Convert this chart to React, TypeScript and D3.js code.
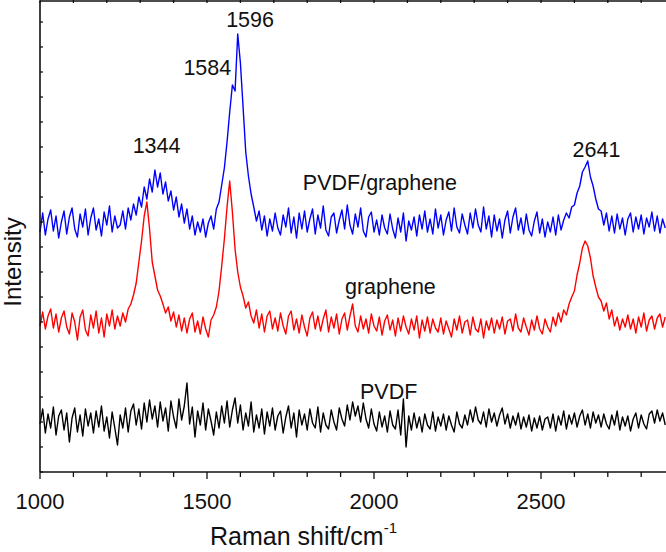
import React from 'react';
import * as d3 from 'd3';

// Raman spectra, sampled every 8 cm-1 from 1000 cm-1, stacked intensities (arb. units)
const shiftStart = 1000;
const shiftStep = 8;

const pvdfGraphene = [
  480, 518, 474, 506, 524, 482, 512, 468, 500, 522,
  476, 510, 528, 486, 470, 516, 490, 526, 474, 508,
  528, 484, 506, 472, 520, 494, 532, 480, 512, 488,
  494, 522, 486, 528, 504, 536, 514, 550, 530, 570,
  546, 586, 560, 604, 570, 598, 556, 580, 542, 562,
  524, 550, 510, 536, 498, 526, 486, 512, 474, 500,
  480, 506, 470, 498, 512, 486, 526, 540, 574, 608,
  660, 720, 774, 762, 876, 818, 730, 640, 592, 556,
  530, 502, 522, 484, 512, 472, 506, 482, 518, 488,
  474, 514, 490, 528, 478, 510, 468, 518, 486, 522,
  480, 506, 526, 476, 514, 488, 532, 484, 472, 510,
  518, 478, 504, 524, 486, 534, 494, 476, 516, 490,
  528, 482, 470, 510, 520, 480, 504, 474, 514, 488,
  476, 516, 486, 468, 508, 480, 518, 462, 502, 484,
  510, 472, 514, 486, 522, 480, 506, 476, 526, 488,
  514, 474, 504, 520, 482, 528, 490, 478, 516, 494,
  476, 518, 488, 526, 494, 480, 530, 486, 512, 470,
  514, 482, 506, 468, 504, 522, 478, 510, 528, 484,
  508, 476, 516, 484, 472, 502, 520, 478, 506, 470,
  500, 480, 510, 474, 514, 484, 504, 518, 508, 530,
  534, 558, 572, 600, 610, 622, 590, 572, 546, 526,
  522, 494, 518, 482, 512, 478, 516, 486, 508, 474,
  506, 518, 480, 510, 486, 514, 476, 508, 490, 520,
  482, 512, 478, 506, 488,
];

const graphene = [
  292, 320, 286, 312, 326, 288, 316, 280, 308, 322,
  290, 276, 318, 300, 264, 310, 324, 284, 272, 314,
  288, 322, 278, 308, 270, 316, 292, 324, 286, 312,
  292, 318, 300, 326, 336, 354, 378, 420, 462, 512,
  540, 486, 420, 392, 364, 352, 336, 318, 330, 302,
  320, 290, 314, 282, 308, 278, 306, 318, 280, 302,
  276, 310, 286, 270, 304, 314, 330, 362, 412, 466,
  530, 582, 520, 446, 400, 370, 352, 328, 340, 312,
  298, 324, 288, 316, 280, 312, 322, 286, 308, 282,
  318, 292, 276, 312, 322, 284, 306, 278, 314, 290,
  272, 308, 320, 286, 312, 282, 306, 324, 280, 310,
  288, 316, 276, 306, 318, 284, 312, 336, 292, 280,
  312, 286, 306, 278, 316, 292, 282, 310, 274, 302,
  314, 284, 304, 272, 308, 282, 312, 290, 276, 306,
  284, 312, 268, 304, 282, 310, 278, 306, 288, 280,
  308, 276, 302, 286, 270, 306, 284, 312, 278, 300,
  304, 274, 310, 286, 280, 306, 268, 302, 284, 308,
  278, 304, 286, 310, 276, 302, 306, 282, 316, 288,
  280, 308, 290, 274, 304, 284, 312, 286, 276, 306,
  290, 280, 310, 292, 318, 300, 324, 314, 336, 350,
  362, 394, 418, 448, 462, 452, 428, 392, 370, 350,
  342, 322, 338, 306, 324, 292, 310, 284, 306, 290,
  314, 286, 306, 278, 310, 290, 318, 282, 304, 312,
  286, 308, 316, 290, 310,
];

const pvdf = [
  96, 126, 78, 116, 88, 130, 74, 112, 124, 84,
  118, 60, 108, 128, 80, 114, 72, 126, 92, 118,
  78, 122, 90, 132, 82, 110, 68, 120, 88, 54,
  114, 88, 128, 80, 122, 136, 94, 126, 86, 138,
  100, 144, 106, 132, 90, 140, 102, 128, 82, 142,
  110, 88, 146, 104, 132, 178, 96, 130, 70, 122,
  94, 138, 84, 126, 102, 74, 120, 88, 132, 98,
  142, 90, 124, 148, 98, 134, 84, 118, 92, 140,
  80, 114, 88, 126, 76, 120, 92, 128, 84, 112,
  122, 78, 110, 132, 88, 118, 70, 124, 94, 116,
  84, 126, 98, 88, 130, 80, 118, 94, 86, 124,
  100, 84, 128, 106, 92, 134, 104, 140, 112, 132,
  100, 138, 106, 88, 126, 96, 82, 120, 90, 112,
  80, 122, 94, 86, 124, 74, 146, 50, 112, 84,
  118, 88, 110, 80, 116, 94, 86, 120, 82, 110,
  92, 116, 84, 112, 94, 80, 120, 96, 88, 114,
  94, 124, 100, 130, 104, 96, 120, 90, 126, 100,
  118, 92, 114, 128, 96, 116, 88, 112, 94, 118,
  86, 110, 90, 114, 82, 108, 88, 112, 84, 106,
  110, 88, 116, 82, 112, 94, 122, 86, 114, 96,
  118, 90, 112, 124, 94, 116, 88, 120, 98, 114,
  90, 116, 96, 86, 114, 94, 122, 84, 110, 92,
  112, 82, 106, 118, 88, 114, 96, 86, 116, 122,
  98, 124, 102, 118, 94,
];

const seriesColors = ['#0000ff', '#ff0000', '#000000'];
const xMajorTicks = [1000, 1500, 2000, 2500, 3000];
const xTickLabels = [1000, 1500, 2000, 2500];

// annotation text anchored in data units (shift, intensity)
const peakLabels = [
  { text: '1596', shift: 1629, value: 890 },
  { text: '1584', shift: 1501, value: 794 },
  { text: '1344', shift: 1349, value: 638 },
  { text: '2641', shift: 2666, value: 630 },
];
const seriesLabels = [
  { text: 'PVDF/graphene', shift: 1787, value: 564 },
  { text: 'graphene', shift: 1913, value: 356 },
  { text: 'PVDF', shift: 1958, value: 146 },
];

const W = 666;
const H = 552;
const margin = { left: 40, top: 1, bottom: 80 };
const font = '"Liberation Sans", Arial, sans-serif';

export default function App() {
  const x = d3.scaleLinear().domain([1000, 3000]).range([margin.left, margin.left + 668]);
  const y = d3.scaleLinear().domain([0, 940]).range([H - margin.bottom, 2]);
  const bottom = H - margin.bottom;

  const line = d3
    .line<number>()
    .x((_, i) => x(shiftStart + i * shiftStep))
    .y((d) => y(d));

  const minorX = d3.range(1000, 3001, 100);
  const yTicks = d3.range(0, 941, 50);

  return (
    <div style={{ position: 'absolute', left: 0, top: 0 }}>
      <svg width={W} height={H} style={{ display: 'block', fontFamily: font }}>
        <rect width={W} height={H} fill="#fff" />
        <g fill="none" strokeWidth={1.4} strokeLinejoin="round">
          {[pvdfGraphene, graphene, pvdf].map((s, i) => (
            <path key={i} d={line(s) || ''} stroke={seriesColors[i]} />
          ))}
        </g>

        {/* frame */}
        <g stroke="#111" strokeWidth={1.6}>
          <line x1={margin.left} x2={W} y1={bottom} y2={bottom} />
          <line x1={margin.left} x2={W} y1={margin.top} y2={margin.top} />
          <line x1={margin.left} x2={margin.left} y1={margin.top} y2={bottom} />
        </g>
        <g stroke="#111" strokeWidth={1.3}>
          {minorX.map((t) => {
            const major = xMajorTicks.includes(t);
            return (
              <g key={t}>
                <line x1={x(t)} x2={x(t)} y1={bottom} y2={bottom + (major ? 7 : 5)} />
                <line x1={x(t)} x2={x(t)} y1={0} y2={margin.top + 2} />
              </g>
            );
          })}
          {yTicks.map((t) => (
            <line key={t} x1={margin.left} x2={margin.left + 3} y1={y(t)} y2={y(t)} />
          ))}
        </g>
        <g fontSize={22} fill="#111" textAnchor="middle">
          {xTickLabels.map((t) => (
            <text key={t} x={x(t)} y={509}>
              {t}
            </text>
          ))}
        </g>

        <text x={210} y={545} fontSize={25} fill="#111">
          Raman shift/cm
          <tspan fontSize={15} dy={-12}>
            -1
          </tspan>
        </text>
        <text transform="translate(21,262) rotate(-90)" fontSize={24} fill="#111" textAnchor="middle">
          Intensity
        </text>

        <g fontSize={21.5} fill="#111">
          {peakLabels.map((p) => (
            <text key={p.text} x={x(p.shift)} y={y(p.value)} textAnchor="middle">
              {p.text}
            </text>
          ))}
          {seriesLabels.map((p) => (
            <text key={p.text} x={x(p.shift)} y={y(p.value)}>
              {p.text}
            </text>
          ))}
        </g>
      </svg>
    </div>
  );
}
